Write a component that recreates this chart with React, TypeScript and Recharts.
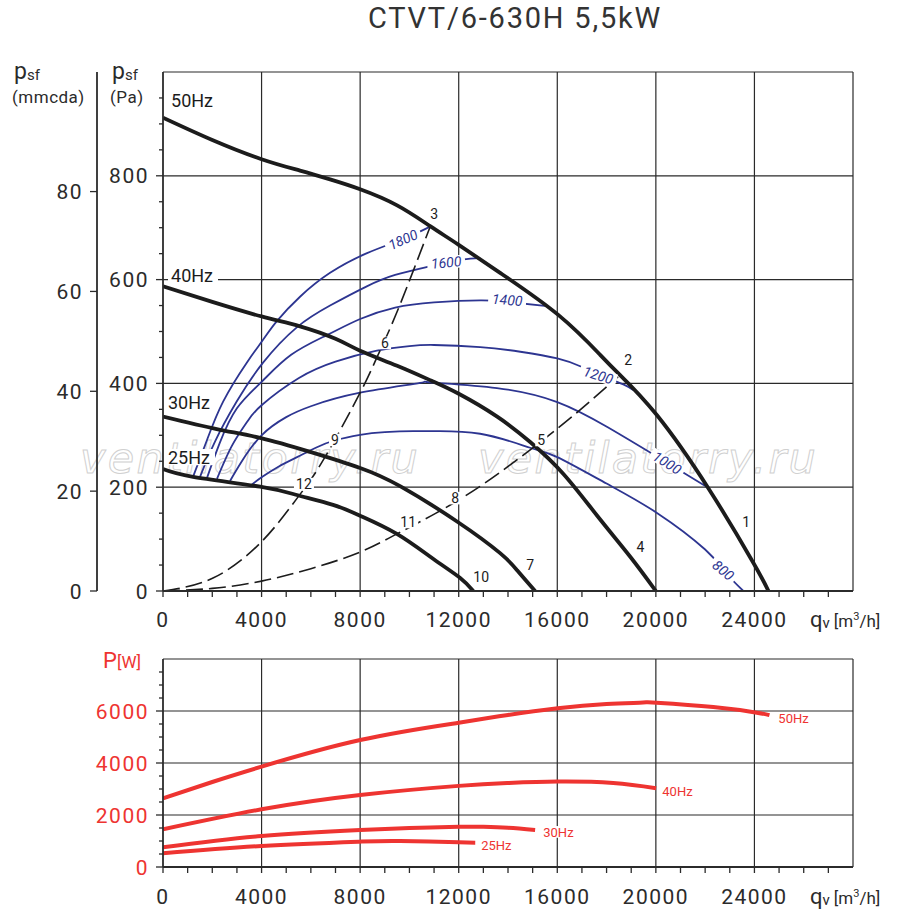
import React from 'react';
import { ComposedChart, Line, Scatter, XAxis, YAxis, CartesianGrid } from 'recharts';

type Pt = [number, number];

// fan curves, q [m3/h] -> psf [Pa]
const fan50: Pt[] = [[0, 912], [2000, 869], [4000, 832], [5560, 810], [6780, 793], [8000, 774], [9500, 743], [10840, 703], [12000, 667], [13680, 613], [16040, 532], [17740, 455], [18550, 416], [20040, 339], [22130, 198], [23960, 54], [24570, 0]];
const fan40: Pt[] = [[0, 587], [2000, 557], [4000, 529], [5560, 510], [7000, 486], [8000, 463], [9500, 434], [10900, 405], [12000, 380], [13560, 336], [14900, 287], [16240, 226], [17620, 145], [18960, 66], [20000, 0]];
const fan30: Pt[] = [[0, 336], [2180, 312], [3940, 295], [5970, 268], [8000, 237], [9620, 202], [11930, 134], [13680, 73], [14370, 40], [15100, 0]];
const fan25: Pt[] = [[0, 235], [1220, 220], [3940, 201], [5430, 185], [6900, 166], [8000, 145], [9490, 110], [10960, 62], [12060, 25], [12590, 0]];

// system curves (dashed)
const sysA: Pt[] = [[0, 0], [2030, 25], [4000, 95], [5430, 178], [6500, 252], [8000, 382], [8680, 450], [9490, 537], [10840, 702]];
const sysB: Pt[] = [[0, 0], [2000, 5], [4000, 19], [6000, 43], [8000, 75], [9490, 110], [11080, 150], [13000, 206], [14900, 272], [16700, 340], [18470, 413]];

// blue curves
const rpm1800: Pt[] = [[1218, 220], [1786, 291], [2440, 365], [3400, 440], [4060, 484], [4620, 520], [5560, 567], [6780, 613], [8280, 651], [9740, 678], [10840, 702]];
const rpm1600: Pt[] = [[1502, 220], [2110, 288], [2990, 365], [4060, 440], [5430, 508], [6780, 550], [8270, 587], [9420, 609], [10760, 625], [11490, 633], [12180, 639], [12870, 642]];
const rpm1400: Pt[] = [[1786, 218], [2300, 285], [3000, 352], [4000, 403], [5200, 455], [6650, 493], [8000, 524], [9420, 546], [11000, 556], [12870, 560], [13970, 557], [15590, 549]];
const rpm1200: Pt[] = [[2190, 216], [2800, 280], [3400, 325], [4000, 358], [5500, 410], [7000, 442], [8680, 463], [10000, 472], [11000, 474], [12870, 470], [14500, 461], [16000, 448], [16930, 433], [17660, 418], [18680, 398], [19080, 387]];
const rpm1000: Pt[] = [[2720, 212], [3200, 250], [4000, 300], [5000, 335], [6000, 356], [8000, 382], [10430, 401], [10840, 402], [13550, 391], [16000, 364], [18030, 316], [20460, 247], [22090, 200]];
const rpm800: Pt[] = [[3530, 202], [4000, 219], [4700, 240], [5440, 258], [6200, 276], [6950, 290], [8000, 301], [9000, 306], [10150, 308], [10840, 308], [12870, 303], [14900, 276], [16000, 258], [18000, 207], [20060, 150], [22000, 80], [22740, 40], [23550, 0]];

// power, q [m3/h] -> P [W]
const pw50: Pt[] = [[0, 2640], [2000, 3270], [4000, 3860], [8000, 4885], [12000, 5550], [14000, 5850], [16020, 6110], [18000, 6270], [19480, 6325], [20030, 6320], [22330, 6150], [24100, 5935], [24610, 5840]];
const pw40: Pt[] = [[0, 1450], [4000, 2220], [8000, 2770], [12000, 3120], [14000, 3230], [16000, 3285], [18270, 3230], [20010, 3030]];
const pw30: Pt[] = [[0, 757], [4000, 1190], [8000, 1420], [10000, 1500], [12000, 1548], [13000, 1545], [14000, 1508], [15100, 1425]];
const pw25: Pt[] = [[0, 525], [4000, 807], [8000, 975], [9620, 1000], [12000, 950], [12670, 935]];

type Tag = { q: number; v: number; t: string };

const pointTags: Tag[] = [
  { q: 23670, v: 133, t: '1' }, { q: 18880, v: 445, t: '2' }, { q: 11000, v: 727, t: '3' },
  { q: 19370, v: 85, t: '4' }, { q: 15350, v: 291, t: '5' }, { q: 9010, v: 478, t: '6' },
  { q: 14900, v: 50, t: '7' }, { q: 11860, v: 179, t: '8' }, { q: 6980, v: 291, t: '9' },
  { q: 12910, v: 27, t: '10' }, { q: 9950, v: 133, t: '11' }, { q: 5720, v: 206, t: '12' },
];
const hzTags: Tag[] = [
  { q: 325, v: 946, t: '50Hz' }, { q: 325, v: 607, t: '40Hz' },
  { q: 203, v: 364, t: '30Hz' }, { q: 203, v: 258, t: '25Hz' },
];
const rpmTags: Tag[] = [
  { q: 9740, v: 677, t: '1800' }, { q: 11490, v: 633, t: '1600' }, { q: 13970, v: 561, t: '1400' },
  { q: 17660, v: 416, t: '1200' }, { q: 20460, v: 247, t: '1000' }, { q: 22740, v: 40, t: '800' },
];
const rpmTilt: Record<string, number> = { '1800': -24, '1600': -5, '1400': 4, '1200': 17, '1000': 32, '800': 40 };
const powerTags: Tag[] = [
  { q: 24970, v: 5730, t: '50Hz' }, { q: 20260, v: 2920, t: '40Hz' },
  { q: 15430, v: 1350, t: '30Hz' }, { q: 12910, v: 850, t: '25Hz' },
];

const qGrid = [4000, 8000, 12000, 16000, 20000, 24000, 28000];
const qTicks = Array.from({ length: 28 }, (_, i) => i * 1000);
const paGrid = [200, 400, 600, 800, 1000];
const paTicks = Array.from({ length: 20 }, (_, i) => i * 50);
const mmTicks = [0, 20, 40, 60, 80];
const mmFrame: Pt[] = [[0, 0], [28000, 103.95]];
const pwGrid = [2000, 4000, 6000, 8000];
const pwTicks = Array.from({ length: 16 }, (_, i) => i * 500);

const FONT = 'Roboto, "DejaVu Sans", sans-serif';
const INK = '#2b2b2b';
const BLACK = '#1c1c1c';
const BLUE = '#2d3591';
const RED = '#ee3431';

const rows = (pts: Pt[]) => pts.map(([q, v]) => ({ q, v }));

const QTick = (labelDy: number) => (props: any) => {
  const { x, y, payload } = props;
  const v = payload.value;
  return (
    <g>
      <line x1={x} x2={x} y1={y} y2={y + 6} stroke={INK} strokeWidth={1.3} />
      {v % 4000 === 0 && v <= 24000 && (
        <text x={x} y={y + labelDy} textAnchor="middle" fontSize={21} letterSpacing={1.5} fill={INK} fontFamily={FONT}>{v}</text>
      )}
    </g>
  );
};

const YTick = (majorStep: number, color: string, minor: boolean) => (props: any) => {
  const { x, y, payload } = props;
  const v = payload.value;
  const major = v % majorStep === 0;
  return (
    <g>
      <line x1={x} x2={x - (major ? 7 : 4)} y1={y} y2={y} stroke={INK} strokeWidth={1.3} />
      {(major || !minor) && (
        <text x={x - 14} y={y} dy="0.36em" textAnchor="end" fontSize={21} letterSpacing={1.5} fill={color} fontFamily={FONT}>{v}</text>
      )}
    </g>
  );
};

const tagShape = (o: { size: number; color: string; anchor: 'start' | 'middle'; charW: number; pad: number; italic?: boolean; tilt?: Record<string, number> }) => (props: any) => {
  const { cx, cy, payload } = props;
  const t: string = payload.t;
  const w = t.length * o.charW + o.pad * 2;
  const h = o.size * 0.9;
  const x0 = o.anchor === 'start' ? -o.pad : -w / 2;
  const a = o.tilt ? o.tilt[t] ?? 0 : 0;
  return (
    <g transform={`translate(${cx},${cy}) rotate(${a})`}>
      <rect x={x0} y={-h / 2} width={w} height={h} fill="#fff" />
      <text x={0} y={0} dy="0.36em" textAnchor={o.anchor} fontSize={o.size} fill={o.color} fontFamily={FONT} fontStyle={o.italic ? 'italic' : 'normal'}>{t}</text>
    </g>
  );
};

const curve = (pts: Pt[], color: string, width: number, dash?: string) => (
  <Line
    data={rows(pts)}
    dataKey="v"
    type="natural"
    stroke={color}
    strokeWidth={width}
    strokeDasharray={dash}
    strokeLinecap="butt"
    dot={false}
    activeDot={false}
    isAnimationActive={false}
  />
);

export default function App() {
  return (
    <div style={{ position: 'absolute', left: 0, top: 0, width: 900, height: 909, background: '#fff', fontFamily: FONT }}>
      <svg width={900} height={909} style={{ position: 'absolute', left: 0, top: 0 }}>
        {[80, 478].map((x) => (
          <text key={x} x={x} y={473} fontSize={43} letterSpacing={2.3} fontStyle="italic" fontFamily='"DejaVu Sans", sans-serif' fill="none" stroke="#d0d0d0" strokeWidth={1}>ventilatorry.ru</text>
        ))}
      </svg>

      {/* secondary pressure axis in mm water column */}
      <div style={{ position: 'absolute', left: 0, top: 0 }}>
        <ComposedChart width={900} height={640} margin={{ top: 72, right: 47, bottom: 49, left: 0 }}>
          <XAxis type="number" dataKey="q" domain={[0, 28000]} hide allowDataOverflow />
          <YAxis type="number" domain={[0, 103.95]} ticks={mmTicks} interval={0} width={97} tickSize={0} tickMargin={0} tickLine={false} tick={YTick(20, INK, false)} axisLine={{ stroke: INK, strokeWidth: 1.8 }} allowDataOverflow />
          <Line data={rows(mmFrame)} dataKey="v" stroke="none" dot={false} activeDot={false} isAnimationActive={false} />
        </ComposedChart>
      </div>

      <div style={{ position: 'absolute', left: 0, top: 0 }}>
        <ComposedChart width={900} height={640} margin={{ top: 72, right: 47, bottom: 0, left: 0 }}>
          <CartesianGrid horizontalValues={paGrid} verticalValues={qGrid} stroke="#2a2a2a" strokeWidth={1.2} />
          <XAxis type="number" dataKey="q" domain={[0, 28000]} ticks={qTicks} interval={0} height={49} tickSize={0} tickMargin={0} tickLine={false} tick={QTick(36)} axisLine={{ stroke: INK, strokeWidth: 1.8 }} allowDataOverflow />
          <YAxis type="number" domain={[0, 1000]} ticks={paTicks} interval={0} width={163} tickSize={0} tickMargin={0} tickLine={false} tick={YTick(200, INK, true)} axisLine={{ stroke: INK, strokeWidth: 1.8 }} allowDataOverflow />

          {curve(rpm1800, BLUE, 1.8)}
          {curve(rpm1600, BLUE, 1.8)}
          {curve(rpm1400, BLUE, 1.8)}
          {curve(rpm1200, BLUE, 1.8)}
          {curve(rpm1000, BLUE, 1.8)}
          {curve(rpm800, BLUE, 1.8)}
          {curve(sysA, BLACK, 1.6, '17 6')}
          {curve(sysB, BLACK, 1.6, '17 6')}
          {curve(fan50, BLACK, 3.8)}
          {curve(fan40, BLACK, 3.8)}
          {curve(fan30, BLACK, 3.8)}
          {curve(fan25, BLACK, 3.8)}

          <Scatter data={rpmTags} dataKey="v" isAnimationActive={false} shape={tagShape({ size: 14, color: BLUE, anchor: 'middle', charW: 8, pad: 3, italic: true, tilt: rpmTilt })} />
          <Scatter data={pointTags} dataKey="v" isAnimationActive={false} shape={tagShape({ size: 14, color: BLACK, anchor: 'middle', charW: 8, pad: 2 })} />
          <Scatter data={hzTags} dataKey="v" isAnimationActive={false} shape={tagShape({ size: 18, color: BLACK, anchor: 'start', charW: 11, pad: 3 })} />
        </ComposedChart>
      </div>

      <div style={{ position: 'absolute', left: 0, top: 640 }}>
        <ComposedChart width={900} height={269} margin={{ top: 19, right: 47, bottom: 0, left: 0 }}>
          <CartesianGrid horizontalValues={pwGrid} verticalValues={qGrid} stroke="#2a2a2a" strokeWidth={1.2} />
          <XAxis type="number" dataKey="q" domain={[0, 28000]} ticks={qTicks} interval={0} height={42} tickSize={0} tickMargin={0} tickLine={false} tick={QTick(37)} axisLine={{ stroke: INK, strokeWidth: 1.8 }} allowDataOverflow />
          <YAxis type="number" domain={[0, 8000]} ticks={pwTicks} interval={0} width={163} tickSize={0} tickMargin={0} tickLine={false} tick={YTick(2000, RED, true)} axisLine={{ stroke: INK, strokeWidth: 1.8 }} allowDataOverflow />

          {curve(pw50, RED, 4)}
          {curve(pw40, RED, 4)}
          {curve(pw30, RED, 4)}
          {curve(pw25, RED, 4)}

          <Scatter data={powerTags} dataKey="v" isAnimationActive={false} shape={tagShape({ size: 13, color: RED, anchor: 'start', charW: 8, pad: 4 })} />
        </ComposedChart>
      </div>

      <svg width={900} height={909} style={{ position: 'absolute', left: 0, top: 0, pointerEvents: 'none' }} fontFamily={FONT}>
        <text x={515} y={28} textAnchor="middle" fontSize={29} letterSpacing={1.8} fill="#333">CTVT/6-630H 5,5kW</text>

        <text x={14} y={79} fill={INK}><tspan fontSize={23}>p</tspan><tspan fontSize={15} dy={1}>sf</tspan></text>
        <text x={12} y={103} fontSize={17} letterSpacing={0.5} fill={INK}>(mmcda)</text>
        <text x={112} y={79} fill={INK}><tspan fontSize={23}>p</tspan><tspan fontSize={15} dy={1}>sf</tspan></text>
        <text x={110} y={103} fontSize={17} letterSpacing={0.5} fill={INK}>(Pa)</text>

        {[627, 904].map((y) => (
          <text key={y} x={810} y={y} fill={INK}>
            <tspan fontSize={22}>q</tspan><tspan fontSize={15} dy={1}>v</tspan>
            <tspan fontSize={17} dx={4} dy={-1}>[m</tspan><tspan fontSize={11} dy={-7}>3</tspan><tspan fontSize={17} dy={7}>/h]</tspan>
          </text>
        ))}

        <text x={103} y={668} fill={RED}><tspan fontSize={22}>P</tspan><tspan fontSize={17}>[W]</tspan></text>
      </svg>
    </div>
  );
}
